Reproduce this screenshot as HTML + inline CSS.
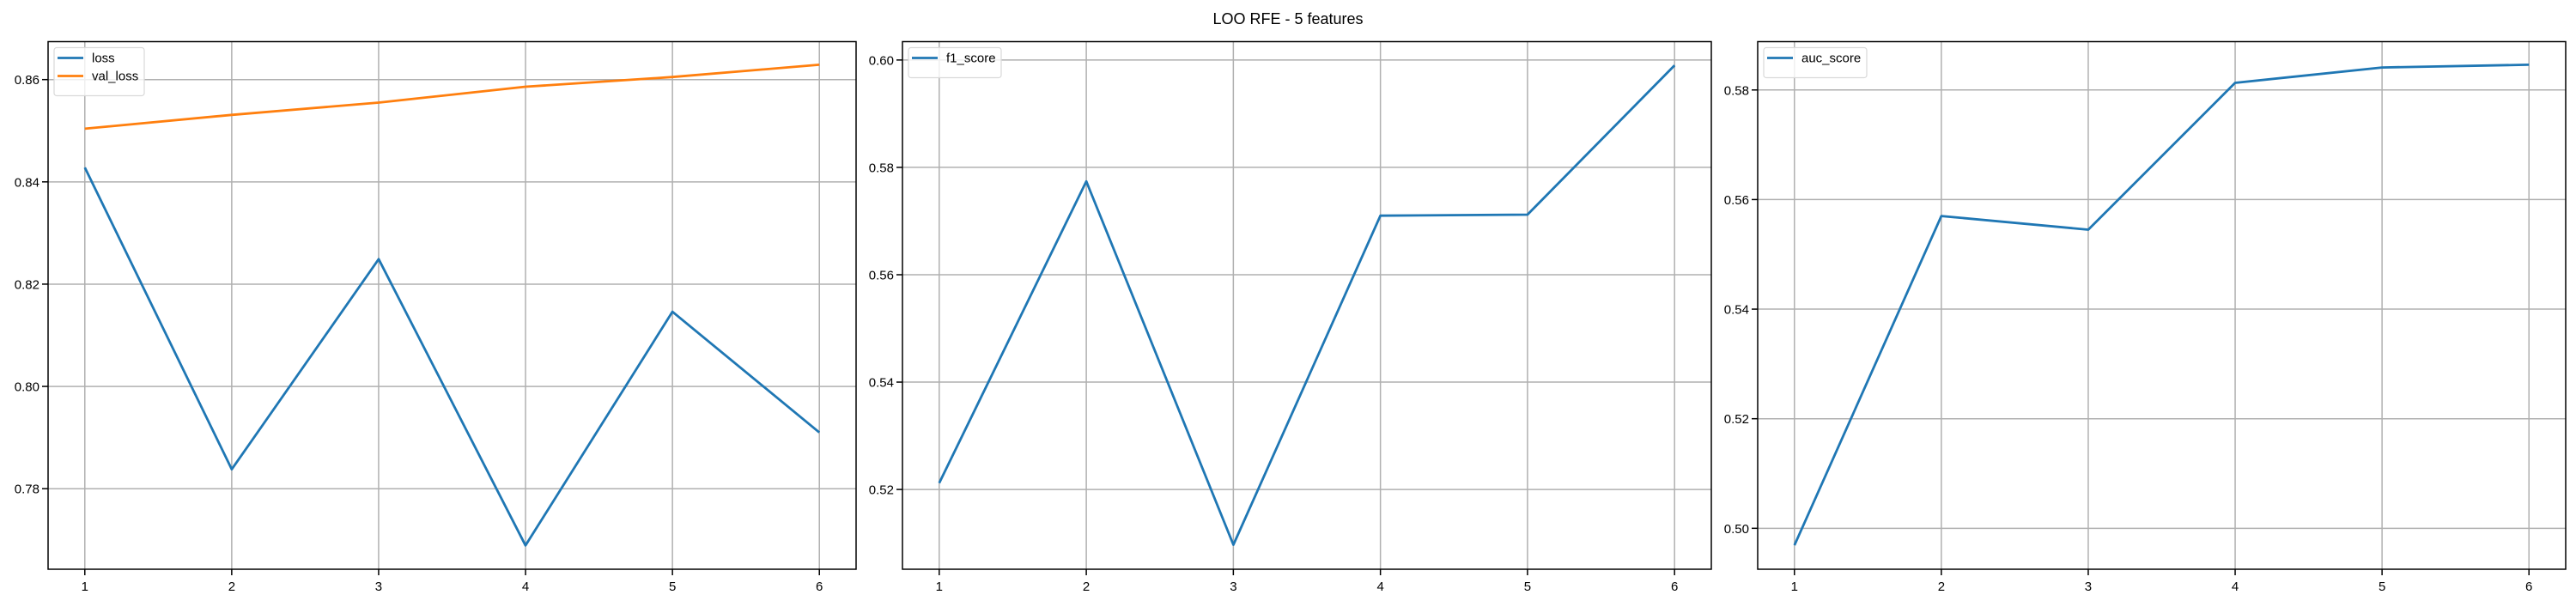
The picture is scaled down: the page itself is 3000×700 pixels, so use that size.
<!DOCTYPE html>
<html><head><meta charset="utf-8"><style>
html,body{margin:0;padding:0;background:#fff;}
svg{display:block;font-family:"Liberation Sans","DejaVu Sans",sans-serif;}
</style></head><body>
<svg id="fig" width="3000" height="700" viewBox="0 0 3000 700" xmlns="http://www.w3.org/2000/svg">
<rect width="3000" height="700" fill="#fff"/>
<text x="1500" y="28" text-anchor="middle" font-size="18" fill="#000">LOO RFE - 5 features</text>
</svg>
<script>
const epochs = [1, 2, 3, 4, 5, 6];
const xTicks = [1, 2, 3, 4, 5, 6];
const lossValues = [0.8428, 0.7838, 0.8249, 0.7689, 0.8146, 0.7910];
const valLossValues = [0.8504, 0.8531, 0.8555, 0.8586, 0.8605, 0.8629];
const f1Values = [0.5212, 0.5774, 0.5097, 0.5710, 0.5712, 0.5990];
const aucValues = [0.4969, 0.5570, 0.5545, 0.5813, 0.5841, 0.5846];
const lossTicks = [0.78, 0.80, 0.82, 0.84, 0.86];
const f1Ticks = [0.52, 0.54, 0.56, 0.58, 0.60];
const aucTicks = [0.50, 0.52, 0.54, 0.56, 0.58];

const NS = "http://www.w3.org/2000/svg";
const svg = document.getElementById('fig');
function mk(tag, attrs, parent){
  const e = document.createElementNS(NS, tag);
  for (const k in attrs) e.setAttribute(k, attrs[k]);
  (parent||svg).appendChild(e);
  return e;
}
const TOP = 48.5, BOTTOM = 663;

function panel(name, left, right, ymin, ymax, yTicks, series){
  const g = mk('g', {});
  
  
  const xs = v => left + (v - 0.75) / 5.5 * (right - left);
  const ys = v => BOTTOM - (v - ymin) / (ymax - ymin) * (BOTTOM - TOP);
  // grid
  xTicks.forEach(t => {
    const l = mk('line', {x1:xs(t), x2:xs(t), y1:TOP, y2:BOTTOM, stroke:'#b0b0b0', 'stroke-width':1.5}, g);
    
    
    const tk = mk('line', {x1:xs(t), x2:xs(t), y1:BOTTOM, y2:BOTTOM+7, stroke:'#000', 'stroke-width':1.5}, g);
    
    
    const tx = mk('text', {x:xs(t), y:BOTTOM+25, 'text-anchor':'middle', 'font-size':15, fill:'#000'}, g);
    tx.textContent = String(t);
    
    
  });
  yTicks.forEach(t => {
    const l = mk('line', {x1:left, x2:right, y1:ys(t), y2:ys(t), stroke:'#b0b0b0', 'stroke-width':1.5}, g);
    
    
    const tk = mk('line', {x1:left-7, x2:left, y1:ys(t), y2:ys(t), stroke:'#000', 'stroke-width':1.5}, g);
    
    
    const tx = mk('text', {x:left-10, y:ys(t)+5.5, 'text-anchor':'end', 'font-size':15, fill:'#000'}, g);
    tx.textContent = t.toFixed(2);
    
    
  });
  // series
  series.forEach(s => {
    const pts = s.values.map((v,i) => xs(epochs[i]).toFixed(1) + ',' + ys(v).toFixed(1)).join(' ');
    const pl = mk('polyline', {points:pts, fill:'none', stroke:s.color, 'stroke-width':2.8, 'stroke-linejoin':'round'}, g);
    
    
  });
  // frame
  const fr = mk('rect', {x:left, y:TOP, width:right-left, height:BOTTOM-TOP, fill:'none', stroke:'#000', 'stroke-width':1.5}, g);
  
  
  // legend
  const lw = series.length > 1 ? 105 : (series[0].label === 'auc_score' ? 120 : 108);
  const lh = 12 + series.length * 21 + 2;
  const lg = mk('g', {}, g);
  
  
  mk('rect', {x:left+7, y:TOP+7, width:lw, height:lh, rx:3, fill:'#fff', 'fill-opacity':0.8, stroke:'#d9d9d9', 'stroke-width':1.2}, lg);
  series.forEach((s, i) => {
    const y = TOP + 19 + i * 21;
    const e = mk('g', {}, lg);
    
    
    mk('line', {x1:left+11, x2:left+41, y1:y, y2:y, stroke:s.color, 'stroke-width':2.8}, e);
    const t = mk('text', {x:left+51, y:y+5, 'font-size':15, fill:'#000'}, e);
    t.textContent = s.label;
  });
}

panel('loss-panel', 56, 997, 0.76425, 0.86742, lossTicks, [
  {label:'loss', values:lossValues, color:'#1f77b4'},
  {label:'val_loss', values:valLossValues, color:'#ff7f0e'}
]);
panel('f1-panel', 1051, 1993, 0.50514, 0.60342, f1Ticks, [
  {label:'f1_score', values:f1Values, color:'#1f77b4'}
]);
panel('auc-panel', 2047, 2988, 0.49253, 0.58882, aucTicks, [
  {label:'auc_score', values:aucValues, color:'#1f77b4'}
]);
</script>
</body></html>
